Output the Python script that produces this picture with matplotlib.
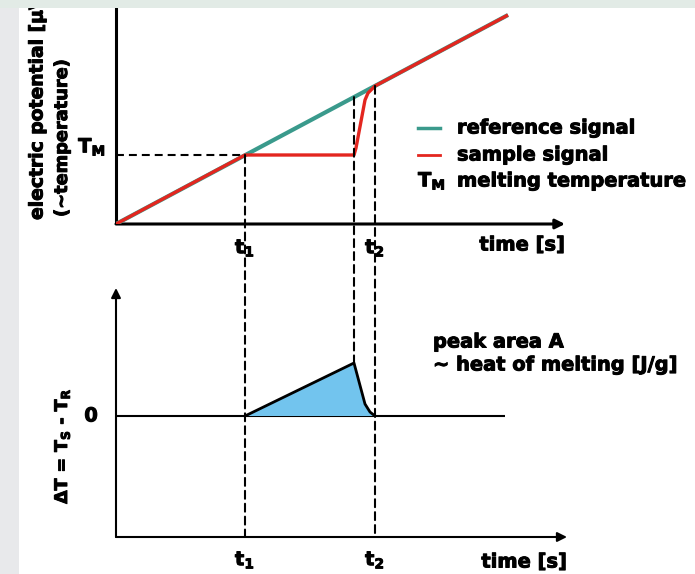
import matplotlib
matplotlib.use("Agg")
import matplotlib.pyplot as plt
import matplotlib.patheffects as pe
from matplotlib.patches import ConnectionPatch, Rectangle, Polygon
import numpy as np

plt.rcParams["font.family"] = ["DejaVu Sans"]
plt.rcParams["font.weight"] = "bold"
plt.rcParams["mathtext.fontset"] = "custom"
plt.rcParams["mathtext.rm"] = "DejaVu Sans:bold"
plt.rcParams["mathtext.bf"] = "DejaVu Sans:bold"
plt.rcParams["mathtext.it"] = "DejaVu Sans:bold"
plt.rcParams["mathtext.default"] = "bf"

# ---- data (time and temperature in arbitrary units) ----
ref_time = [0.0, 39.2]
ref_temp = [0.0, 20.9]

sample_time = [0.0, 12.9, 23.8, 24.0, 24.9, 25.2, 25.9, 39.2]
sample_temp = [0.0, 6.9, 6.9, 7.6, 12.4, 13.1, 13.8, 20.9]

t1 = 12.9          # onset of melting
t_melt_end = 23.8  # sample stops absorbing heat
t2 = 25.9          # sample back on reference line
T_melt = 6.9

dT_time = [12.9, 23.8, 24.9, 25.4, 25.9]
dT_value = [0.0, 5.3, 1.2, 0.4, 0.0]

tick_labels = ["t$_1$", "t$_2$"]

TEAL = "#3a9a8c"
RED = "#e3261f"
FILL = "#72c4ee"

# heavier strokes for all lettering
HEAVY = [pe.withStroke(linewidth=0.7, foreground="black")]

W, H = 695, 574
fig = plt.figure(figsize=(W / 100, H / 100), dpi=100)
fig.patch.set_facecolor("white")

# top panel: electric potential vs. time
ax1 = fig.add_axes([116 / W, (H - 224) / H, 579 / W, 224 / H])
ax1.set_xlim(0, 57.9)
ax1.set_ylim(0, 22.4)
# bottom panel: temperature difference vs. time
ax2 = fig.add_axes([116 / W, 0, 579 / W, 304 / H])
ax2.set_xlim(0, 57.9)
ax2.set_ylim(-15.8, 14.6)
for ax in (ax1, ax2):
    ax.set_axis_off()

# axes of the top panel
ax1.plot([0, 0], [0, 23], color="black", lw=2.2, clip_on=False, solid_capstyle="butt")
ax1.annotate("", xy=(44.9, 0), xytext=(0, 0),
             arrowprops=dict(arrowstyle="-|>", mutation_scale=14, lw=2.2,
                             color="black", shrinkA=0, shrinkB=0))

# axes of the bottom panel
ax2.annotate("", xy=(0, 12.8), xytext=(0, -12.1),
             arrowprops=dict(arrowstyle="-|>", mutation_scale=14, lw=1.5,
                             color="black", shrinkA=0, shrinkB=0))
ax2.annotate("", xy=(45.1, -12.1), xytext=(0, -12.1),
             arrowprops=dict(arrowstyle="-|>", mutation_scale=14, lw=1.5,
                             color="black", shrinkA=0, shrinkB=0))
ax2.plot([0, 38.9], [0, 0], color="black", lw=1.5, solid_capstyle="butt")

# signals
ax1.plot(ref_time, ref_temp, color=TEAL, lw=3.0, solid_capstyle="butt", zorder=3)
ax1.plot(sample_time, sample_temp, color=RED, lw=2.4, solid_capstyle="butt",
         solid_joinstyle="round", zorder=4)

# dashed guides
dash = (0, (3.8, 2.4))
ax1.plot([0, t1], [T_melt, T_melt], color="black", lw=1.5, linestyle=dash, zorder=2)
ref_at = lambda t: np.interp(t, ref_time, ref_temp)
guides = [
    ((t1, T_melt), (t1, -12.1)),
    ((t_melt_end, float(ref_at(t_melt_end))), (t_melt_end, max(dT_value))),
    ((t2, float(ref_at(t2))), (t2, -12.1)),
]
for top_pt, bot_pt in guides:
    con = ConnectionPatch(xyA=top_pt, coordsA=ax1.transData,
                          xyB=bot_pt, coordsB=ax2.transData,
                          color="black", lw=1.5, linestyle=dash, zorder=1)
    fig.add_artist(con)

# peak area
poly = Polygon(np.column_stack([dT_time, dT_value]), closed=True,
               facecolor=FILL, edgecolor="none", zorder=2)
ax2.add_patch(poly)
ax2.plot(dT_time, dT_value, color="black", lw=2.0, solid_joinstyle="round", zorder=3)

# tick labels and axis titles
FS = 14
txt = dict(path_effects=HEAVY, clip_on=False)
for x, lab in zip([t1, t2], tick_labels):
    ax1.text(x, -2.4, lab, ha="center", va="center", fontsize=FS, **txt)
    ax2.text(x, -14.4, lab, ha="center", va="center", fontsize=FS, **txt)
ax1.text(44.9, -2.1, "time [s]", ha="right", va="center", fontsize=FS, **txt)
ax2.text(45.1, -14.6, "time [s]", ha="right", va="center", fontsize=FS, **txt)

ax1.text(-1.0, 7.7, "T$_M$", ha="right", va="center", fontsize=FS, **txt)
ax2.text(-2.5, 0, "0", ha="center", va="center", fontsize=FS, **txt)

fig.text(37 / W, 1 - 220 / H, "electric potential [\u00b5V]", rotation=90,
         rotation_mode="anchor", ha="left", va="center", fontsize=13.5,
         path_effects=HEAVY)
fig.text(62 / W, 1 - 138 / H, "(~temperature)", rotation=90,
         ha="center", va="center", fontsize=12.8, path_effects=HEAVY)
fig.text(62 / W, 1 - 446 / H, "$\\Delta$T = T$_S$ - T$_R$", rotation=90,
         ha="center", va="center", fontsize=12.5, path_effects=HEAVY)

# legend
ax1.plot([30.2, 32.4], [9.6, 9.6], color=TEAL, lw=2.5, clip_on=False)
ax1.plot([30.2, 32.4], [6.9, 6.9], color=RED, lw=2.0, clip_on=False)
ax1.text(30.2, 4.3, "T$_M$", ha="left", va="center", fontsize=FS, **txt)
ax1.text(34.1, 9.6, "reference signal", ha="left", va="center", fontsize=FS, **txt)
ax1.text(34.1, 6.9, "sample signal", ha="left", va="center", fontsize=FS, **txt)
ax1.text(34.1, 4.3, "melting temperature", ha="left", va="center", fontsize=FS, **txt)

ax2.text(31.7, 7.4, "peak area A", ha="left", va="center", fontsize=FS, **txt)
ax2.text(31.7, 5.1, "~ heat of melting [J/g]", ha="left", va="center", fontsize=FS, **txt)

# page margins
fig.add_artist(Rectangle((0, 0), 19 / W, 1, transform=fig.transFigure,
                         facecolor="#e8e9eb", edgecolor="none", zorder=10))
fig.add_artist(Rectangle((0, 1 - 8 / H), 1, 8 / H, transform=fig.transFigure,
                         facecolor="#e2ebe6", edgecolor="none", zorder=10))

fig.savefig("out.png", dpi=100)
